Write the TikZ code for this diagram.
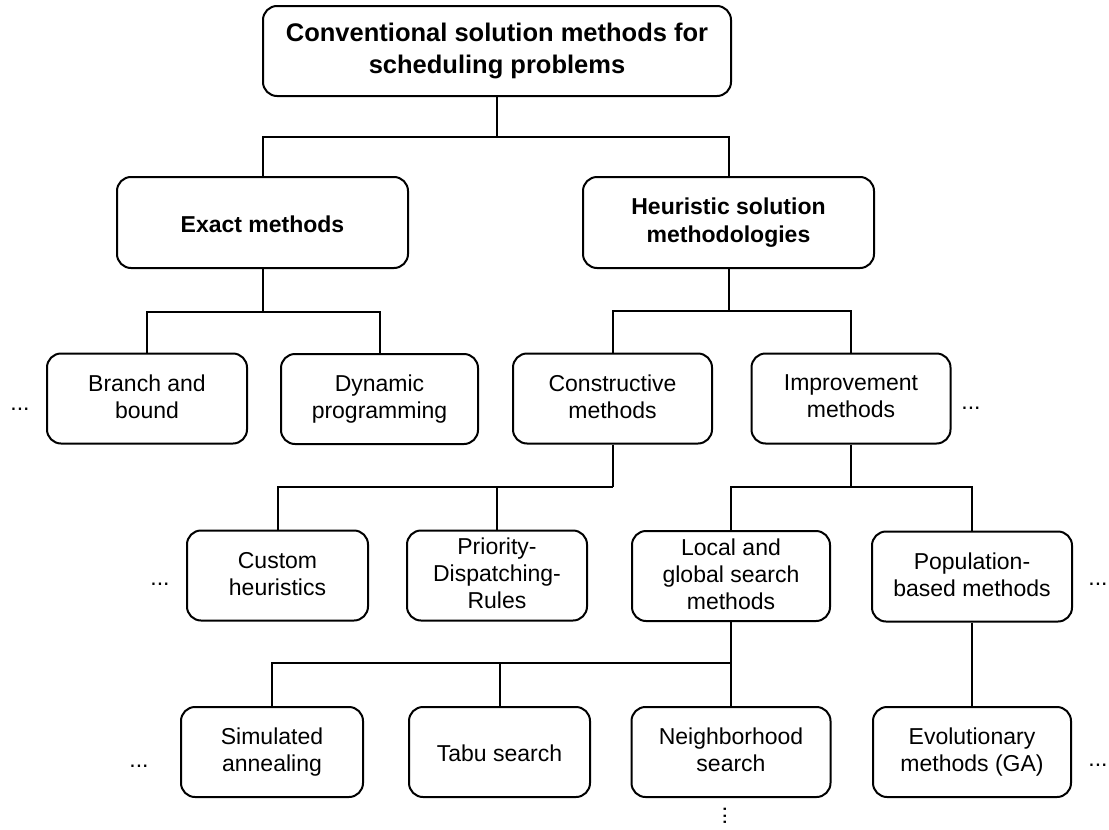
\documentclass[tikz,border=0pt]{standalone}
\usepackage{fontspec}
\setmainfont{Liberation Sans}
% fixed line box, so that descenders do not move the text
\newcommand{\linebox}{\rule[-0.15\baselineskip]{0pt}{\baselineskip}}
\begin{document}
\begin{tikzpicture}[x=1pt,y=-1pt,
  box/.style={draw, line width=2pt, rounded corners=14pt, align=center,
    inner sep=0pt, minimum height=90pt, font=\fontsize{23}{27}\selectfont,
    execute at begin node=\linebox, execute at end node=\linebox},
  head/.style={box, font=\fontsize{23}{28.5}\selectfont\bfseries, minimum height=91pt},
  link/.style={line width=2pt},
  more/.style={font=\fontsize{23}{27}\selectfont, anchor=base, inner sep=0pt}]
\useasboundingbox (0,0) rectangle (1109,830);

% root
\node[box, font=\fontsize{25.5}{32}\selectfont\bfseries, minimum width=468pt]
  (top) at (497,51) {Conventional solution methods for\\scheduling problems};

% first level
\node[head, minimum width=291pt] (exact) at (262.5,222.5) {Exact methods};
\node[head, minimum width=291pt] (heur) at (728.5,222.5) {Heuristic solution\\methodologies};

% second level
\node[box, minimum width=200pt] (bb) at (147,398.5) {Branch and\\bound};
\node[box, minimum width=197pt] (dp) at (379.5,399) {Dynamic\\programming};
\node[box, minimum width=199pt] (con) at (612.5,398.5) {Constructive\\methods};
\node[box, minimum width=199pt] (imp) at (851,398.5) {Improvement\\methods};

% third level
\node[box, minimum width=181pt] (cus) at (277.5,575.5) {Custom\\heuristics};
\node[box, minimum width=180pt] (pdr) at (497,575.5) {Priority-\\Dispatching-\\Rules};
\node[box, minimum width=198pt] (lgs) at (731,576) {Local and\\global search\\methods};
\node[box, minimum width=200pt] (pop) at (972,576.5) {Population-\\based methods};

% fourth level
\node[box, minimum width=182pt] (sa) at (272,752) {Simulated\\annealing};
\node[box, minimum width=181pt] (ts) at (499.5,752) {Tabu search};
\node[box, minimum width=199pt] (nh) at (731,752) {Neighborhood\\search};
\node[box, minimum width=198pt] (evo) at (972,752) {Evolutionary\\methods (GA)};

% omitted siblings
\node[more] (m1) at (20,410) {...};
\node[more] (m2) at (971,409) {...};
\node[more] (m3) at (160,585) {...};
\node[more] (m4) at (1098,585) {...};
\node[more] (m5) at (139,767) {...};
\node[more] (m6) at (1098,766) {...};
\node[more, rotate=90] (m7) at (726,816) {...};

% bus junctions
\coordinate (b1) at (top.south |- 0,137);
\coordinate (b2) at (exact.south |- 0,312);
\coordinate (b3) at (heur.south |- 0,311);
\coordinate (b4) at (con.south |- 0,487);
\coordinate (b5) at (imp.south |- 0,487);
\coordinate (b6) at (lgs.south |- 0,663);

% connectors
\draw[link] (top.south) -- (b1);
\draw[link] (exact.north) |- (b1) -| (heur.north);

\draw[link] (exact.south) -- (b2);
\draw[link] (bb.north) |- (b2) -| (dp.north);

\draw[link] (heur.south) -- (b3);
\draw[link] (con.north) |- (b3) -| (imp.north);

\draw[link] (con.south) -- (b4);
\draw[link] (cus.north) |- (b4);
\draw[link] (pdr.north) -- (pdr.north |- b4);

\draw[link] (imp.south) -- (b5);
\draw[link] (lgs.north) |- (b5) -| (pop.north);

\draw[link] (lgs.south) -- (b6) -- (nh.north);
\draw[link] (sa.north) |- (b6);
\draw[link] (ts.north) -- (ts.north |- b6);

\draw[link] (pop.south) -- (evo.north);
\end{tikzpicture}
\end{document}
